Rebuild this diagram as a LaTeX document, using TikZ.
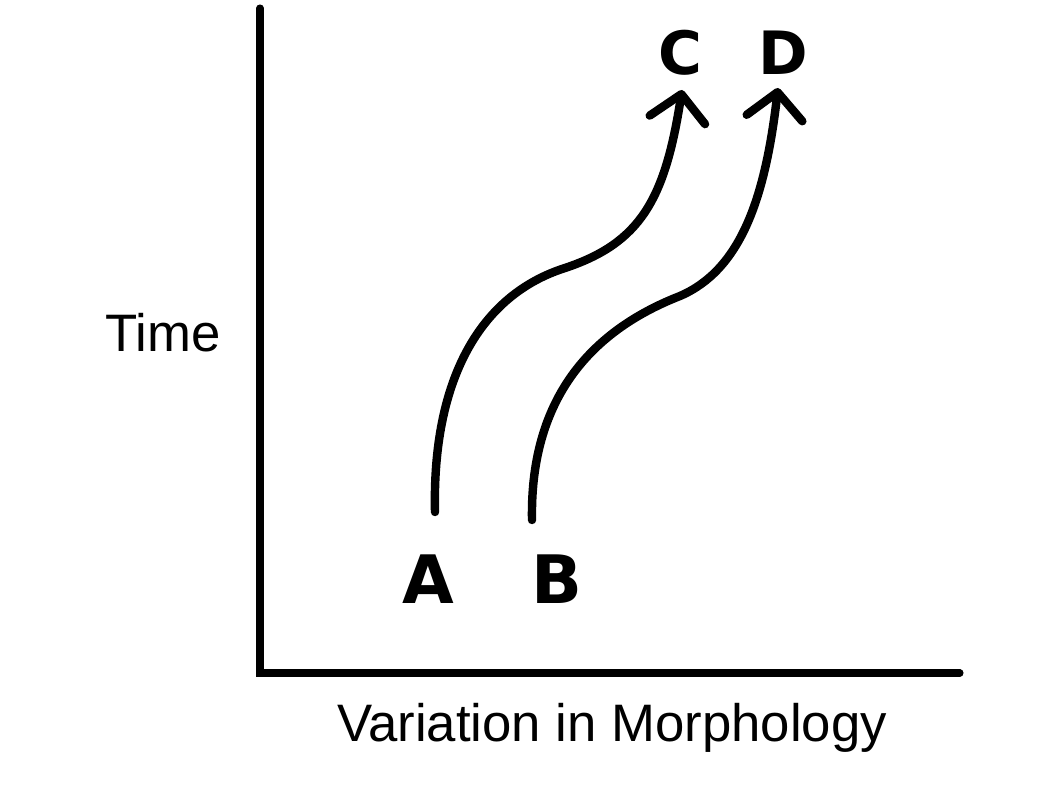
\documentclass[tikz,border=0pt]{standalone}
\usepackage{fontspec}
\setmainfont{Liberation Sans}
\newfontfamily\handfont{DejaVu Sans}
\usetikzlibrary{arrows.meta}

\begin{document}
\begin{tikzpicture}
\tikzstyle{axis} = [line width=2pt, line cap=round, draw=black]
\tikzstyle{label} = [font=\fontsize{15}{18}\selectfont, text=black]
\tikzstyle{letter} = [font=\handfont\bfseries\fontsize{19}{22}\selectfont, text=black, inner sep=0pt, anchor=base]
\tikzstyle{arrow} = [line width=2.4pt, line cap=round, -{Straight Barb[length=2.6mm, width=5.6mm, round]}]

\useasboundingbox (0,0) rectangle (10.54,8.02);

\coordinate (o) at (2.60,1.29);
\coordinate (ytop) at (2.60,7.94);
\coordinate (xend) at (9.60,1.29);
\draw [axis] (ytop) -- (o) -- (xend);

\node [label] (time) at (1.63,4.69) {Time};
\node [label] (var) at (6.12,0.74) {Variation in Morphology};

\node [letter] (vA) at (4.28,1.99) {A};
\node [letter] (vB) at (5.57,1.99) {B};
\node [letter, font=\handfont\bfseries\fontsize{17}{20}\selectfont] (vC) at (6.80,7.27) {C};
\node [letter, font=\handfont\bfseries\fontsize{17}{20}\selectfont] (vD) at (7.83,7.27) {D};

\coordinate (s1) at (4.35,2.90);
\coordinate (m1) at (5.65,5.34);
\coordinate (e1) at (6.82,7.12);
\coordinate (s2) at (5.32,2.82);
\coordinate (m2) at (6.80,5.06);
\coordinate (e2) at (7.78,7.14);

\draw [arrow] (s1) .. controls (4.32,4.22) and (4.80,5.07) .. (m1) .. controls (6.40,5.59) and (6.65,6.02) .. (e1);
\draw [arrow] (s2) .. controls (5.30,3.92) and (5.80,4.67) .. (m2) .. controls (7.40,5.32) and (7.65,6.02) .. (e2);
\end{tikzpicture}
\end{document}
